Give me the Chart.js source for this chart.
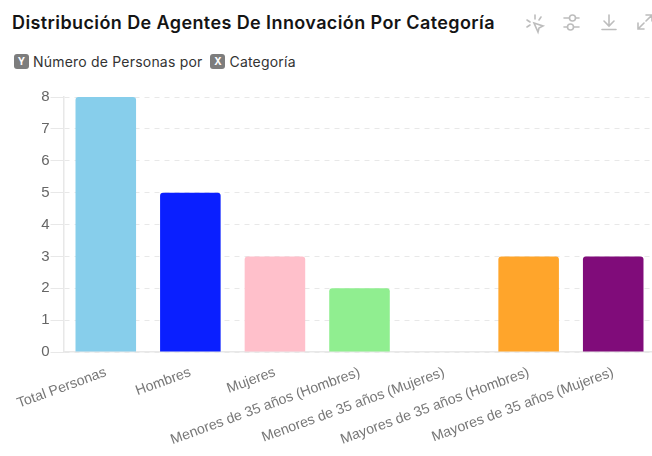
<!DOCTYPE html>
<html>
<head>
<meta charset="utf-8">
<script src="https://cdn.jsdelivr.net/npm/chart.js@4"></script>
<style>
  html, body { margin:0; padding:0; background:#fff; width:652px; height:456px; overflow:hidden; }
  body { position:relative; font-family:Inter, "Noto Sans", sans-serif; }
  #title { position:absolute; left:12px; top:12px; font-size:18px; font-weight:600; color:#141414; white-space:nowrap; line-height:22px; letter-spacing:.4px; }
  #axes { position:absolute; left:14px; top:52px; height:18px; display:flex; align-items:center; font-size:14px; color:#333; white-space:nowrap; letter-spacing:.2px; }
  .chip { display:inline-block; width:15px; height:15px; line-height:15px; border-radius:3px; background:#7d7d7d; color:#fff; font-size:10px; font-weight:700; text-align:center; margin-right:4px; letter-spacing:0; }
  #icons { position:absolute; left:0; top:0; }
  #wrap { position:absolute; left:0; top:80px; width:660px; height:376px; }
</style>
</head>
<body>
<div id="title">Distribución De Agentes De Innovación Por Categoría</div>
<div id="axes"><span class="chip">Y</span><span>Número de Personas por</span><span class="chip" style="margin-left:8px">X</span><span>Categoría</span></div>
<svg id="icons" width="652" height="40" fill="none" stroke="#bdbdbd" stroke-width="1.6" stroke-linecap="round">
  <path d="M535 15v4M527 20l3 2M541 17l-2 3M527 27l3-2"/>
  <path d="M534 23l9 3-4 2-1 4z"/>
  <path d="M564 18h5M576 18h3M564 27h3M574 27h5"/>
  <circle cx="572.500" cy="18" r="3"/><circle cx="570.500" cy="27" r="3"/>
  <path d="M609 15v11M604 21l5 5 5-5M602 29.500h14"/>
  <path d="M638 23v6h6M638 29l6-6M646 15h6M652 15v6M652 15l-6 6"/>
</svg>
<div id="wrap"><canvas id="chart" width="660" height="376"></canvas></div>
<script>
const categories = ["Total Personas","Hombres","Mujeres","Menores de 35 años (Hombres)","Menores de 35 años (Mujeres)","Mayores de 35 años (Hombres)","Mayores de 35 años (Mujeres)"];
const personas = [8,5,3,2,0,3,3];
const barColors = ["#87CEEB","#0A1FFF","#FFC0CB","#90EE90","transparent","#FFA52B","#800C7A"];
const yTicks = [0,1,2,3,4,5,6,7,8];

new Chart(document.getElementById("chart"), {
  type: "bar",
  data: {
    labels: categories,
    datasets: [{
      data: personas,
      backgroundColor: barColors,
      borderRadius: {topLeft:3, topRight:3},
      borderSkipped: "bottom",
      barPercentage: .716,
      categoryPercentage: 1
    }]
  },
  options: {
    responsive: false,
    animation: false,
    layout: {padding: {top:17, left:0, right:4.5, bottom:0}},
    plugins: {legend: {display:false}, tooltip: {enabled:false}},
    scales: {
      x: {
        afterFit: (s) => { s.height = 104; },
        grid: {display:false},
        border: {color:"#e8e8e8", width:1.5},
        ticks: {maxRotation:20, minRotation:20, color:"#777", padding:4, autoSkip:false, font:{family:"Liberation Sans", size:14.2}}
      },
      y: {
        min: 0,
        max: 8,
        afterFit: (s) => { s.width = 63.5; },
        afterBuildTicks: (s) => { s.ticks = yTicks.map(v => ({value:v})); },
        grid: {color:"#e8e8e8", tickColor:"#e8e8e8", tickLength:13},
        border: {color:"#e8e8e8", width:1.5, dash:[5,5]},
        ticks: {color:"#666", padding:1, font:{family:"Liberation Sans", size:15}}
      }
    }
  }
});
</script>
</body>
</html>
